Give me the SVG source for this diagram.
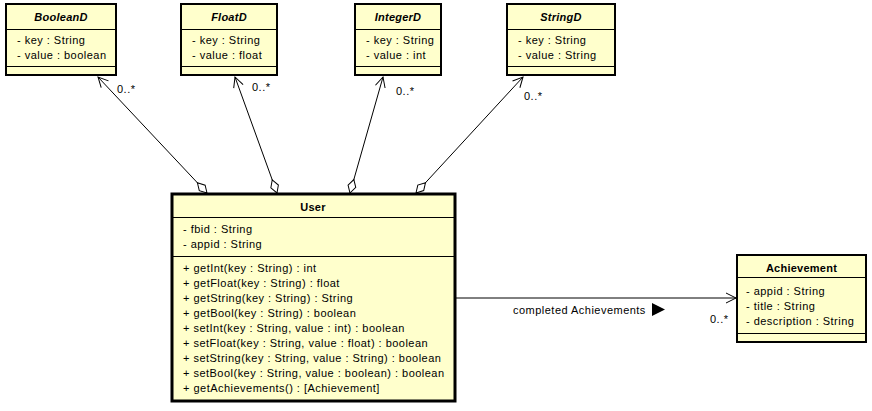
<svg xmlns="http://www.w3.org/2000/svg" width="872" height="411" viewBox="0 0 872 411">
<style>
text{font-family:"Liberation Sans",Arial,sans-serif;font-size:11px;fill:#000;letter-spacing:0.48px}
.t{font-weight:bold;text-anchor:middle;letter-spacing:0.25px}
.ti{font-weight:bold;font-style:italic;text-anchor:middle;letter-spacing:0.25px}
.box{fill:#ffffcc;stroke:#000;stroke-width:2}
.ubox{fill:#ffffcc;stroke:#000;stroke-width:3}
.div{stroke:#000;stroke-width:1}
.conn{fill:none;stroke:#000;stroke-width:1}
</style>
<defs>
<marker id="arrow" markerUnits="userSpaceOnUse" viewBox="-12 -7 14 14" refX="0" refY="0" markerWidth="14" markerHeight="14" orient="auto-start-reverse" overflow="visible">
<path d="M-10,-5 L0,0 L-10,5" fill="none" stroke="#000" stroke-width="1"/>
</marker>
<marker id="diamond" markerUnits="userSpaceOnUse" viewBox="-16 -6 18 12" refX="0" refY="0" markerWidth="18" markerHeight="12" orient="auto" overflow="visible">
<path d="M0,0 L-7,-4 L-14,0 L-7,4 Z" fill="#fff" stroke="#000" stroke-width="1"/>
</marker>
</defs>
<g id="connectors">
<path class="conn" d="M98,77 L207,193" marker-start="url(#arrow)" marker-end="url(#diamond)"/>
<path class="conn" d="M235,77 L277,193" marker-start="url(#arrow)" marker-end="url(#diamond)"/>
<path class="conn" d="M383,77 L350,193" marker-start="url(#arrow)" marker-end="url(#diamond)"/>
<path class="conn" d="M523,77 L416,193" marker-start="url(#arrow)" marker-end="url(#diamond)"/>
<text x="117" y="93">0..*</text>
<text x="252" y="91">0..*</text>
<text x="396" y="95">0..*</text>
<text x="524" y="100">0..*</text>
<path class="conn" d="M456,298 L736,298" marker-end="url(#arrow)"/>
<text x="513" y="314">completed Achievements</text>
<polygon points="652,303 665,309.5 652,316" fill="#000"/>
<text x="710" y="323">0..*</text>
</g>
<g id="BooleanD">
<rect class="box" x="6" y="4" width="110" height="71"/>
<line class="div" x1="6" y1="29.5" x2="116" y2="29.5"/>
<line class="div" x1="6" y1="66.5" x2="116" y2="66.5"/>
<text class="ti" x="61" y="21">BooleanD</text>
<text x="17" y="44">- key : String</text>
<text x="17" y="59">- value : boolean</text>
</g>
<g id="FloatD">
<rect class="box" x="181" y="4" width="96" height="71"/>
<line class="div" x1="181" y1="29.5" x2="277" y2="29.5"/>
<line class="div" x1="181" y1="66.5" x2="277" y2="66.5"/>
<text class="ti" x="229" y="21">FloatD</text>
<text x="192" y="44">- key : String</text>
<text x="192" y="59">- value : float</text>
</g>
<g id="IntegerD">
<rect class="box" x="355" y="4" width="86" height="71"/>
<line class="div" x1="355" y1="29.5" x2="441" y2="29.5"/>
<line class="div" x1="355" y1="66.5" x2="441" y2="66.5"/>
<text class="ti" x="398" y="21">IntegerD</text>
<text x="366" y="44">- key : String</text>
<text x="366" y="59">- value : int</text>
</g>
<g id="StringD">
<rect class="box" x="507" y="4" width="108" height="71"/>
<line class="div" x1="507" y1="29.5" x2="615" y2="29.5"/>
<line class="div" x1="507" y1="66.5" x2="615" y2="66.5"/>
<text class="ti" x="561" y="21">StringD</text>
<text x="518" y="44">- key : String</text>
<text x="518" y="59">- value : String</text>
</g>
<g id="User">
<rect class="ubox" x="172" y="194" width="283" height="207"/>
<line class="div" x1="172" y1="217.5" x2="455" y2="217.5"/>
<line class="div" x1="172" y1="256.5" x2="455" y2="256.5"/>
<text class="t" x="313" y="211">User</text>
<text x="183" y="233">- fbid : String</text>
<text x="183" y="248">- appid : String</text>
<text x="183" y="272">+ getInt(key : String) : int</text>
<text x="183" y="287">+ getFloat(key : String) : float</text>
<text x="183" y="302">+ getString(key : String) : String</text>
<text x="183" y="317">+ getBool(key : String) : boolean</text>
<text x="183" y="332">+ setInt(key : String, value : int) : boolean</text>
<text x="183" y="347">+ setFloat(key : String, value : float) : boolean</text>
<text x="183" y="362">+ setString(key : String, value : String) : boolean</text>
<text x="183" y="377">+ setBool(key : String, value : boolean) : boolean</text>
<text x="183" y="392">+ getAchievements() : [Achievement]</text>
</g>
<g id="Achievement">
<rect class="box" x="737" y="255" width="129" height="87"/>
<line class="div" x1="737" y1="277.5" x2="866" y2="277.5"/>
<line class="div" x1="737" y1="333.5" x2="866" y2="333.5"/>
<text class="t" x="801.5" y="272">Achievement</text>
<text x="746" y="295">- appid : String</text>
<text x="746" y="310">- title : String</text>
<text x="746" y="325">- description : String</text>
</g>
</svg>
